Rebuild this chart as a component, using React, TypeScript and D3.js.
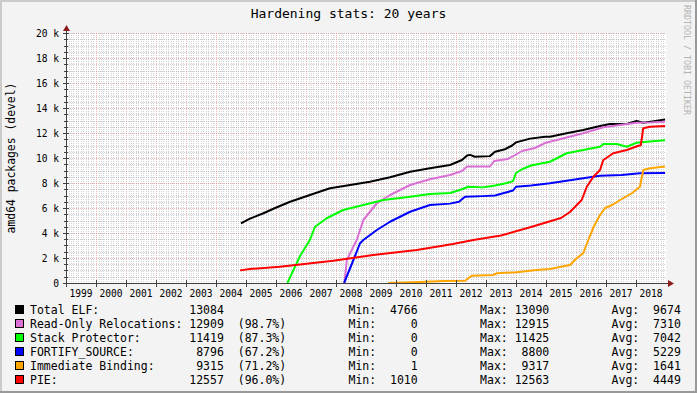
import React from 'react';
import * as d3 from 'd3';

const W = 697;
const H = 393;

type P = [number, number]; // [decimal year, packages]

const titleText = 'Hardening stats: 20 years';
const yAxisTitle = 'amd64 packages (devel)';
const watermark = 'RRDTOOL / TOBI OETIKER';
const labelYears = d3.range(1999, 2019);
const yMajorTicks = d3.range(0, 20001, 2000);
const yMinorTicks = d3.range(0, 20001, 500);

const totalElf: P[] = [
  [2004.83, 4766], [2005.13, 5150], [2005.58, 5580], [2005.97, 6000], [2006.47, 6500],
  [2007.13, 7040], [2007.8, 7580], [2008.47, 7840], [2009.13, 8100], [2009.8, 8460],
  [2010.47, 8900], [2011.13, 9180], [2011.8, 9440], [2012.2, 9840], [2012.37, 10200],
  [2012.47, 10250], [2012.63, 10100], [2013.13, 10150], [2013.3, 10500], [2013.63, 10700],
  [2013.87, 11000], [2014.0, 11250], [2014.47, 11550], [2014.97, 11700], [2015.13, 11700],
  [2015.69, 11980], [2016.24, 12240], [2016.8, 12560], [2017.13, 12720], [2017.69, 12720],
  [2018.02, 12960], [2018.24, 12820], [2018.6, 12950], [2018.97, 13084],
];
const readOnlyReloc: P[] = [
  [2008.28, 0], [2008.36, 1840], [2008.69, 3440], [2008.91, 5040], [2009.36, 6380],
  [2009.8, 7040], [2010.47, 7840], [2011.13, 8300], [2011.8, 8640], [2012.2, 8960],
  [2012.37, 9320], [2013.13, 9320], [2013.27, 9760], [2013.73, 9920], [2013.97, 10240],
  [2014.2, 10560], [2014.63, 10800], [2014.97, 11200], [2015.13, 11300], [2016.24, 11980],
  [2016.91, 12460], [2018.02, 12820], [2018.5, 12850], [2018.97, 12909],
];
const stackProtector: P[] = [
  [2006.38, 0], [2006.8, 2160], [2007.13, 3440], [2007.3, 4500], [2007.69, 5180],
  [2008.24, 5840], [2008.91, 6240], [2009.58, 6640], [2010.47, 6900], [2011.13, 7120],
  [2011.8, 7200], [2012.2, 7500], [2012.4, 7700], [2012.9, 7650], [2013.3, 7800],
  [2013.7, 8000], [2013.9, 8150], [2014.0, 8800], [2014.2, 9100], [2014.5, 9400],
  [2015.13, 9700], [2015.69, 10380], [2016.24, 10640], [2016.8, 10900], [2016.91, 11120],
  [2017.36, 11120], [2017.69, 10900], [2018.02, 11220], [2018.36, 11300], [2018.97, 11419],
];
const fortifySource: P[] = [
  [2008.27, 0], [2008.58, 1840], [2008.8, 3180], [2008.91, 3440], [2009.36, 4240],
  [2009.8, 4900], [2010.47, 5700], [2011.13, 6240], [2011.8, 6350], [2012.1, 6500],
  [2012.3, 6900], [2012.9, 6950], [2013.3, 7000], [2013.6, 7200], [2013.9, 7400],
  [2014.0, 7700], [2014.5, 7800], [2015.13, 7980], [2016.24, 8380], [2016.8, 8580],
  [2017.52, 8640], [2018.13, 8780], [2018.97, 8796],
];
const immediateBinding: P[] = [
  [2009.74, 1], [2010.8, 80], [2011.6, 160], [2012.3, 180], [2012.52, 580],
  [2013.24, 640], [2013.36, 780], [2014.02, 860], [2014.69, 1040], [2015.13, 1120],
  [2015.63, 1360], [2015.8, 1440], [2016.02, 1980], [2016.24, 2380], [2016.41, 3440],
  [2016.6, 4560], [2016.8, 5440], [2016.97, 6000], [2017.2, 6240], [2017.47, 6640],
  [2017.86, 7180], [2018.13, 7700], [2018.24, 9040], [2018.47, 9180], [2018.97, 9315],
];
const pie: P[] = [
  [2004.8, 1010], [2005.13, 1120], [2006.13, 1300], [2007.91, 1780], [2009.24, 2240],
  [2010.69, 2640], [2011.9, 3120], [2012.58, 3440], [2013.5, 3800], [2014.5, 4480],
  [2015.5, 5200], [2015.8, 5680], [2016.19, 6640], [2016.36, 7700], [2016.58, 8500],
  [2016.8, 9040], [2016.91, 9840], [2017.24, 10380], [2017.69, 10640], [2018.08, 10980],
  [2018.16, 11020], [2018.24, 12380], [2018.47, 12500], [2018.97, 12557],
];

const legendNames = ['Total ELF:', 'Read-Only Relocations:', 'Stack Protector:', 'FORTIFY_SOURCE:', 'Immediate Binding:', 'PIE:'];
const legendColors = ['#000000', '#da70d6', '#00ff00', '#0000ff', '#ffa500', '#ff0000'];
const legendCurrent = [13084, 12909, 11419, 8796, 9315, 12557];
const legendPct = ['', '98.7', '87.3', '67.2', '71.2', '96.0'];
const legendMin = [4766, 0, 0, 0, 1, 1010];
const legendMax = [13090, 12915, 11425, 8800, 9317, 12563];
const legendAvg = [9674, 7310, 7042, 5229, 1641, 4449];
const seriesData = [totalElf, readOnlyReloc, stackProtector, fortifySource, immediateBinding, pie];

function toDate(t: number): Date {
  const yr = Math.floor(t);
  const a = new Date(yr, 0, 1).getTime();
  const b = new Date(yr + 1, 0, 1).getTime();
  return new Date(a + (b - a) * (t - yr));
}

const FONT = "'DejaVu Sans Mono', monospace";

export default function App() {
  const start = new Date(1999, 0, 1);
  const end = new Date(2019, 0, 1);
  const x = d3.scaleTime().domain([start, end]).range([66, 666]);
  const y = d3.scaleLinear().domain([0, 20000]).range([283, 33]);
  const left = 66, right = 666, top = 33, bottom = 283;

  const months = d3.timeMonth.range(start, end).filter((d) => d.getMonth() !== 0);
  const years = d3.timeYear.range(start, end);

  const line = d3
    .line<P>()
    .x((d) => x(toDate(d[0])))
    .y((d) => y(d[1]));

  const rows = legendNames.map((n, i) => {
    let s = n.padEnd(23) + String(legendCurrent[i]).padStart(5);
    if (legendPct[i]) s += '  (' + legendPct[i] + '%)';
    s = s.padEnd(46) + 'Min:' + String(legendMin[i]).padStart(6);
    s = s.padEnd(65) + 'Max:' + String(legendMax[i]).padStart(6);
    s = s.padEnd(84) + 'Avg:' + String(legendAvg[i]).padStart(6);
    return s;
  });

  const px = (v: number) => Math.round(v) + 0.5;

  return (
    <svg width={W} height={H} style={{ position: 'fixed', left: 0, top: 0 }} fontFamily={FONT}>
      <rect x={0} y={0} width={W} height={H} fill="#f3f3f3" />
      {/* shade border */}
      <rect x={0} y={0} width={W} height={2} fill="#cbcbcb" />
      <rect x={0} y={0} width={2} height={H} fill="#cbcbcb" />
      <rect x={0} y={H - 2} width={W} height={2} fill="#999999" />
      <rect x={W - 2} y={0} width={2} height={H} fill="#999999" />

      <text x={348.5} y={13.5} fontSize={13} textAnchor="middle" dominantBaseline="central" fill="#000">
        {titleText}
      </text>
      <text
        transform={`translate(687,5) rotate(90)`}
        fontSize={8.3}
        fill="#b4b4b4"
        dominantBaseline="central"
      >
        {watermark}
      </text>
      <text
        transform={`translate(11,158) rotate(-90)`}
        fontSize={11.4}
        textAnchor="middle"
        dominantBaseline="central"
        fill="#000"
      >
        {yAxisTitle}
      </text>

      {/* canvas */}
      <rect x={left} y={top} width={right - left} height={bottom - top} fill="#ffffff" />
      <g shapeRendering="crispEdges" strokeWidth={1} strokeDasharray="1,1">
        {months.map((d, i) => (
          <line key={'mv' + i} x1={px(x(d))} x2={px(x(d))} y1={top} y2={bottom} stroke="#8c8c8c" strokeOpacity={0.4} />
        ))}
        {yMinorTicks.filter((v) => v % 2000 !== 0).map((v) => (
          <line key={'mh' + v} x1={left} x2={right} y1={px(y(v))} y2={px(y(v))} stroke="#8c8c8c" strokeOpacity={0.4} />
        ))}
        {years.map((d, i) => (
          <line key={'Mv' + i} x1={px(x(d))} x2={px(x(d))} y1={top} y2={bottom} stroke="#c84040" strokeOpacity={0.38} />
        ))}
        {yMajorTicks.map((v) => (
          <line key={'Mh' + v} x1={left} x2={right} y1={px(y(v))} y2={px(y(v))} stroke="#c84040" strokeOpacity={0.38} />
        ))}
      </g>

      {/* series */}
      <g fill="none" strokeWidth={2} strokeLinejoin="round" strokeLinecap="butt">
        {seriesData.map((data, i) => (
          <path key={'s' + i} d={line(data) || ''} stroke={legendColors[i]} />
        ))}
      </g>

      {/* axes */}
      <g shapeRendering="crispEdges" stroke="#404040" strokeWidth={1}>
        <line x1={63} x2={669} y1={px(bottom)} y2={px(bottom)} />
        <line x1={px(left)} x2={px(left)} y1={287} y2={29} />
        {yMinorTicks.map((v) => (
          <line key={'yt' + v} x1={v % 2000 === 0 ? left - 3 : left - 2} x2={v % 2000 === 0 ? left + 3 : left + 2} y1={px(y(v))} y2={px(y(v))} />
        ))}
        {years.map((d, i) => (
          <line key={'xt' + i} x1={px(x(d))} x2={px(x(d))} y1={bottom - 3} y2={bottom + 4} />
        ))}
      </g>
      <polygon points={`${left + 0.5 - 3.5},${31} ${left + 0.5 + 3.5},${31} ${left + 0.5},${25}`} fill="#8b1c1c" />
      <polygon points={`${668},${bottom + 0.5 - 3.5} ${668},${bottom + 0.5 + 3.5} ${674},${bottom + 0.5}`} fill="#8b1c1c" />

      {/* y labels */}
      {yMajorTicks.map((v) => (
        <text key={'yl' + v} x={59} y={y(v) + 0.5} fontSize={9.6} textAnchor="end" dominantBaseline="central" fill="#000">
          {v === 0 ? '0' : `${v / 1000} k`}
        </text>
      ))}
      {/* x labels */}
      {labelYears.map((yr) => (
        <text key={'xl' + yr} x={x(toDate(yr + 0.5))} y={293} fontSize={9.6} textAnchor="middle" dominantBaseline="central" fill="#000">
          {String(yr)}
        </text>
      ))}

      {/* legend */}
      {rows.map((s, i) => (
        <g key={'lg' + i}>
          <rect x={15.5} y={305 + i * 14 + 0.5} width={8} height={8} fill={legendColors[i]} stroke="#000" strokeWidth={1} />
          <text x={30} y={309.5 + i * 14} fontSize={11.5} dominantBaseline="central" fill="#000" style={{ whiteSpace: 'pre' }}>
            {s}
          </text>
        </g>
      ))}
    </svg>
  );
}
